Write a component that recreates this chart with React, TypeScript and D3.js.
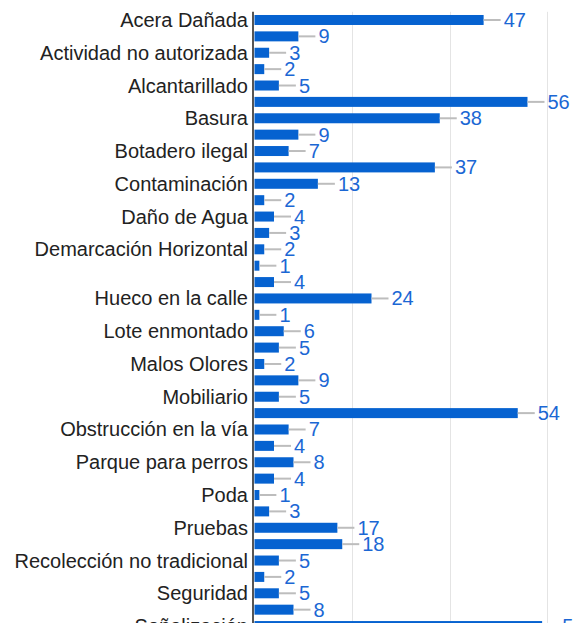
import React from "react";
import * as d3 from "d3";

const categories: string[] = [
  "Acera Dañada", "", "Actividad no autorizada", "", "Alcantarillado", "",
  "Basura", "", "Botadero ilegal", "", "Contaminación", "",
  "Daño de Agua", "", "Demarcación Horizontal", "", "", "Hueco en la calle",
  "", "Lote enmontado", "", "Malos Olores", "", "Mobiliario",
  "", "Obstrucción en la vía", "", "Parque para perros", "", "Poda",
  "", "Pruebas", "", "Recolección no tradicional", "", "Seguridad",
  "", "Señalización",
];
const values: number[] = [
  47, 9, 3, 2, 5, 56,
  38, 9, 7, 37, 13, 2,
  4, 3, 2, 1, 4, 24,
  1, 6, 5, 2, 9, 5,
  54, 7, 4, 8, 4, 1,
  3, 17, 18, 5, 2, 5,
  8, 59,
];
const xTicks: number[] = [0, 20, 40, 60];

const W = 573;
const H = 623;
const BAR = "#0662d0";
const FONT = "Arial, 'Liberation Sans', sans-serif";

export default function App() {
  const step = 16.38;
  const top = 11.8;
  const idx = values.map((_, i) => i);
  const y = d3
    .scaleBand<number>()
    .domain(idx)
    .range([top, top + step * values.length])
    .paddingInner(0.39)
    .paddingOuter(0.195);
  const x = d3.scaleLinear().domain([0, 60]).range([254.5, 547]);
  const bh = y.bandwidth();

  return (
    <svg
      width={W}
      height={H}
      style={{ position: "absolute", left: 0, top: 0, background: "#fff" }}
      fontFamily={FONT}
    >
      {xTicks.slice(1).map((t) => (
        <line
          key={t}
          x1={Math.round(x(t)) + 0.5}
          x2={Math.round(x(t)) + 0.5}
          y1={top}
          y2={H}
          stroke="#e4e4e4"
          strokeWidth={1}
        />
      ))}
      {values.map((v, i) => {
        const y0 = y(i)!;
        const cy = y0 + bh / 2;
        const xe = x(v);
        return (
          <g key={i}>
            <rect x={x(0)} y={y0} width={xe - x(0)} height={bh} fill={BAR} />
            <line
              x1={xe}
              x2={xe + 17}
              y1={cy}
              y2={cy}
              stroke="#bdbdbd"
              strokeWidth={2}
            />
            <text
              x={xe + 20}
              y={cy}
              dy={7}
              fontSize={20}
              fill="#1b67d4"
            >
              {v}
            </text>
            {categories[i] && (
              <text
                x={248}
                y={cy}
                dy={7}
                fontSize={20}
                fill="#222"
                textAnchor="end"
              >
                {categories[i]}
              </text>
            )}
          </g>
        );
      })}
      <line x1={253} x2={253} y1={top} y2={H} stroke="#555" strokeWidth={2} />
    </svg>
  );
}
